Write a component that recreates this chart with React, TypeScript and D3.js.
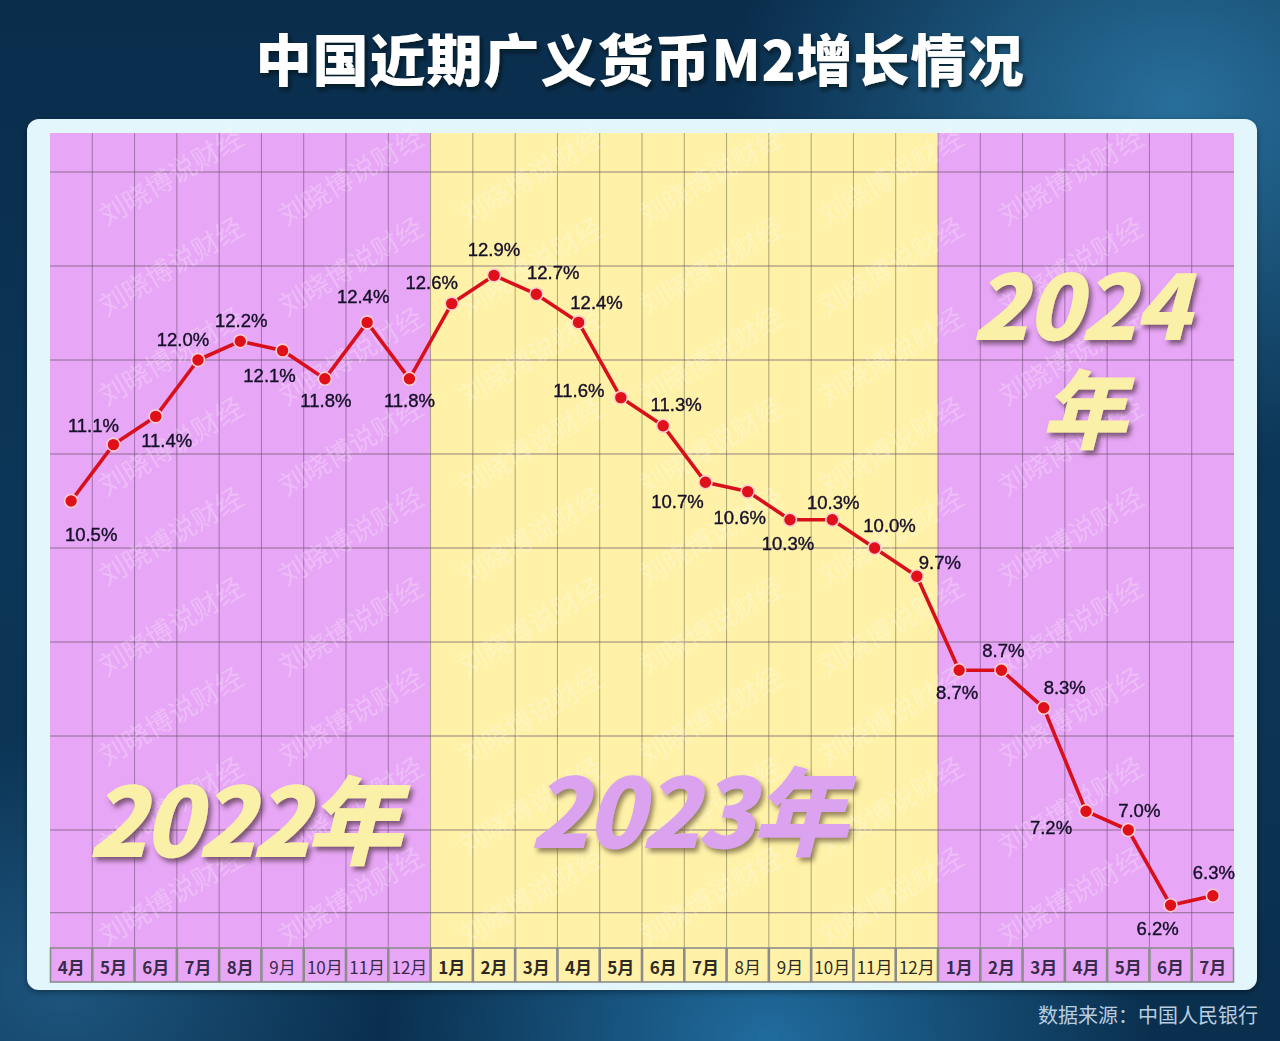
import React from "react";
import * as d3 from "d3";

const months = [
  "4月", "5月", "6月", "7月", "8月", "9月", "10月", "11月", "12月",
  "1月", "2月", "3月", "4月", "5月", "6月", "7月", "8月", "9月", "10月", "11月", "12月",
  "1月", "2月", "3月", "4月", "5月", "6月", "7月",
];
const yearNames = ["2022", "2023", "2024"];
const yearMonthCounts = [9, 12, 7];
const m2Growth = [
  10.5, 11.1, 11.4, 12.0, 12.2, 12.1, 11.8, 12.4, 11.8,
  12.6, 12.9, 12.7, 12.4, 11.6, 11.3, 10.7, 10.6, 10.3, 10.3, 10.0, 9.7,
  8.7, 8.7, 8.3, 7.2, 7.0, 6.2, 6.3,
];
const gridValues = [14, 13, 12, 11, 10, 9, 8, 7, 6.12];
// label offsets relative to each point (dx, dy of label centre)
const labelDx = [20, -20, 11, -15, 1, -13, 1, -4, 0, -20, 0, 17, 18, -42, 13, -28, -8, -2, 1, 15, 23, -2, 2, 21, -35, 11, -13, 1];
const labelDy = [33, -19, 24, -21, -21, 25, 22, -26, 22, -21, -26, -22, -20, -7, -21, 19, 26, 24, -17, -23, -14, 22, -20, -20, 16, -20, 23, -23];

const W = 1280;
const H = 1041;
const plot = { left: 50, right: 1234, top: 133, bottom: 948 };
const rowTop = 948;
const rowBottom = 982;

const PURPLE = "#e8a7f6";
const YELLOW = "#fff2a8";

export default function App() {
  const idx = months.map((_, i) => i);
  const x = d3.scaleBand<number>().domain(idx).range([plot.left, plot.right]).padding(0);
  const y = d3.scaleLinear().domain([7, 14]).range([830, 172]);
  const cx = (i: number) => (x(i) as number) + x.bandwidth() / 2;

  const line = d3
    .line<number>()
    .x((_, i) => cx(i))
    .y((v) => y(v));

  const bands: { name: string; start: number; end: number; color: string }[] = [];
  let s = 0;
  yearNames.forEach((name, k) => {
    const e = s + yearMonthCounts[k];
    bands.push({ name, start: s, end: e, color: k === 1 ? YELLOW : PURPLE });
    s = e;
  });
  const bandOf = (i: number) => bands.find((b) => i >= b.start && i < b.end)!;
  const regularIdx = new Set([5, 6, 7, 8, 16, 17, 18, 19, 20]);

  const wm: { x: number; y: number }[] = [];
  for (let cxw = 170; cxw < 1200; cxw += 180) {
    for (let cyw = 175; cyw < 960; cyw += 90) {
      wm.push({ x: cxw, y: cyw });
    }
  }

  const yearFont = "'Noto Sans CJK SC', 'Noto Sans', sans-serif";

  return (
    <svg
      width={W}
      height={H}
      viewBox={`0 0 ${W} ${H}`}
      style={{ position: "absolute", left: 0, top: 0, display: "block" }}
    >
      <defs>
        <linearGradient id="bg" x1="0" y1="0" x2="0" y2="1">
          <stop offset="0" stopColor="#0a2d4c" />
          <stop offset="0.5" stopColor="#0c3657" />
          <stop offset="1" stopColor="#0a2f4e" />
        </linearGradient>
        <radialGradient id="glow1" cx="0.92" cy="0.1" r="0.35">
          <stop offset="0" stopColor="#2f7fae" stopOpacity="0.8" />
          <stop offset="1" stopColor="#2f7fae" stopOpacity="0" />
        </radialGradient>
        <radialGradient id="glow2" cx="0.6" cy="1" r="0.3">
          <stop offset="0" stopColor="#2a86c0" stopOpacity="0.7" />
          <stop offset="1" stopColor="#2a86c0" stopOpacity="0" />
        </radialGradient>
        <radialGradient id="glow3" cx="0.05" cy="0.95" r="0.25">
          <stop offset="0" stopColor="#2a6f9e" stopOpacity="0.6" />
          <stop offset="1" stopColor="#2a6f9e" stopOpacity="0" />
        </radialGradient>
        <filter id="titleShadow" x="-10%" y="-30%" width="120%" height="160%">
          <feDropShadow dx="2" dy="3" stdDeviation="2" floodColor="#000814" floodOpacity="0.7" />
        </filter>
        <filter id="yearShadowY" x="-10%" y="-20%" width="120%" height="150%">
          <feDropShadow dx="3" dy="4" stdDeviation="2.5" floodColor="#5a3a50" floodOpacity="0.75" />
        </filter>
        <filter id="yearShadowP" x="-10%" y="-20%" width="120%" height="150%">
          <feDropShadow dx="3" dy="4" stdDeviation="2.5" floodColor="#6a5a3a" floodOpacity="0.7" />
        </filter>
        <filter id="panelShadow" x="-5%" y="-5%" width="110%" height="110%">
          <feDropShadow dx="0" dy="2" stdDeviation="3" floodColor="#000" floodOpacity="0.4" />
        </filter>
        <clipPath id="panelClip">
          <rect x={27} y={119} width={1230} height={871} rx={12} />
        </clipPath>
      </defs>

      <rect x={0} y={0} width={W} height={H} fill="url(#bg)" />
      <rect x={0} y={0} width={W} height={H} fill="url(#glow1)" />
      <rect x={0} y={0} width={W} height={H} fill="url(#glow2)" />
      <rect x={0} y={0} width={W} height={H} fill="url(#glow3)" />

      <text
        x={640}
        y={81}
        textAnchor="middle"
        fill="#ffffff"
        fontFamily="'Noto Sans CJK SC', sans-serif"
        fontWeight={900}
        fontSize={56}
        letterSpacing={1}
        filter="url(#titleShadow)"
      >
        中国近期广义货币M2增长情况
      </text>

      <rect x={27} y={119} width={1230} height={871} rx={12} fill="#e3f6fb" filter="url(#panelShadow)" />

      <g clipPath="url(#panelClip)">
        {bands.map((b) => (
          <rect
            key={b.name}
            x={x(b.start) as number}
            y={plot.top}
            width={(x(b.end - 1) as number) + x.bandwidth() - (x(b.start) as number)}
            height={rowTop - plot.top}
            fill={b.color}
          />
        ))}

        {idx.slice(1).map((i) => (
          <line
            key={"v" + i}
            x1={x(i) as number}
            x2={x(i) as number}
            y1={plot.top}
            y2={rowTop}
            stroke={bandOf(i).color === YELLOW ? "#8f8a62" : "#8a5f95"}
            strokeOpacity={0.75}
            strokeWidth={1}
          />
        ))}
        {gridValues.map((v) => (
          <line
            key={"h" + v}
            x1={plot.left}
            x2={plot.right}
            y1={y(v)}
            y2={y(v)}
            stroke="#6e5a70"
            strokeOpacity={0.75}
            strokeWidth={1}
          />
        ))}

        {idx.map((i) => {
          const b = bandOf(i);
          return (
            <g key={"m" + i}>
              <rect
                x={(x(i) as number) + 0.5}
                y={rowTop}
                width={x.bandwidth() - 1}
                height={rowBottom - rowTop}
                fill={b.color}
                stroke="#8c8c8c"
                strokeWidth={1.6}
              />
              <text
                x={cx(i)}
                y={(rowTop + rowBottom) / 2 + 1}
                textAnchor="middle"
                dominantBaseline="central"
                fontFamily="'Noto Sans CJK SC', sans-serif"
                fontWeight={regularIdx.has(i) ? 400 : 700}
                fontSize={17}
                fill={b.color === YELLOW ? "#2e2a22" : "#3a2a4c"}
              >
                {months[i]}
              </text>
            </g>
          );
        })}

        <g opacity={0.24}>
          {wm.map((p, k) => (
            <text
              key={"w" + k}
              x={p.x}
              y={p.y}
              transform={`rotate(-31 ${p.x} ${p.y})`}
              textAnchor="middle"
              dominantBaseline="central"
              fontFamily="'Noto Sans CJK SC', sans-serif"
              fontSize={27}
              fill="#ffffff"
            >
              刘晓博说财经
            </text>
          ))}
        </g>

        <text
          x={88}
          y={857}
          fontFamily={yearFont}
          fontWeight={800}
          fontStyle="italic"
          fontSize={96}
          fill="#fbf0a8"
          letterSpacing={-4}
          filter="url(#yearShadowY)"
        >
          {yearNames[0]}年
        </text>
        <text
          x={530}
          y={848}
          fontFamily={yearFont}
          fontWeight={800}
          fontStyle="italic"
          fontSize={96}
          fill="#dba2ef"
          letterSpacing={-3}
          filter="url(#yearShadowP)"
        >
          {yearNames[1]}年
        </text>
        <text
          x={1080}
          y={340}
          textAnchor="middle"
          fontFamily={yearFont}
          fontWeight={800}
          fontStyle="italic"
          fontSize={92}
          fill="#fbf0a8"
          letterSpacing={-2}
          filter="url(#yearShadowY)"
        >
          {yearNames[2]}
        </text>
        <text
          x={1084}
          y={442}
          textAnchor="middle"
          fontFamily={yearFont}
          fontWeight={800}
          fontStyle="italic"
          fontSize={86}
          fill="#fbf0a8"
          filter="url(#yearShadowY)"
        >
          年
        </text>

        <path d={line(m2Growth) || ""} fill="none" stroke="#d8101c" strokeWidth={3.6} strokeLinejoin="round" />
        {m2Growth.map((v, i) => (
          <circle key={"c" + i} cx={cx(i)} cy={y(v)} r={6.5} fill="#e0101a" stroke="#f7cfd0" strokeWidth={1.6} />
        ))}
        {m2Growth.map((v, i) => (
          <text
            key={"l" + i}
            x={cx(i) + labelDx[i]}
            y={y(v) + labelDy[i]}
            textAnchor="middle"
            dominantBaseline="central"
            fontFamily="'Liberation Sans', Arial, sans-serif"
            fontSize={18.5}
            fill="#16102a"
            stroke="#16102a"
            strokeWidth={0.4}
          >
            {v.toFixed(1)}%
          </text>
        ))}
      </g>

      <text
        x={1258}
        y={1023}
        textAnchor="end"
        fontFamily="'Noto Sans CJK SC', sans-serif"
        fontSize={20}
        fill="#b7cde0"
      >
        数据来源：中国人民银行
      </text>
    </svg>
  );
}
